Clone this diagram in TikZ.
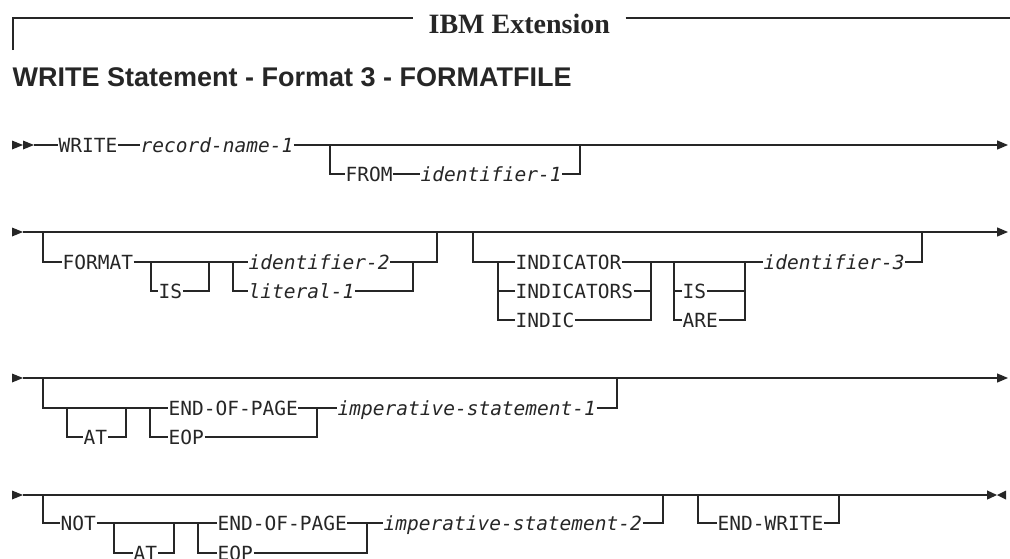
\documentclass[tikz,border=0pt]{standalone}
\usepackage{fontspec}
\setmainfont{Liberation Serif}
\newfontfamily\dmono{DejaVu Sans Mono}
\newfontfamily\hsans{Liberation Sans}
\usetikzlibrary{arrows.meta}
\tikzset{
  kw/.style={anchor=west, inner sep=0pt, text height=14pt, text depth=0pt,
    font=\dmono\fontsize{19.5}{20}\selectfont},
  var/.style={kw, font=\dmono\itshape\fontsize{19.5}{20}\selectfont},
  hdr/.style={anchor=base west, inner xsep=15pt, inner ysep=0pt,
    font=\bfseries\fontsize{28}{30}\selectfont},
  ttl/.style={anchor=base west, inner sep=0pt,
    font=\hsans\bfseries\fontsize{27}{30}\selectfont},
  goon/.style={-{Triangle[length=11pt,width=9pt]}},
}
\begin{document}
\begin{tikzpicture}[x=1pt,y=-1pt,line width=1.3pt,color=black!85]
\useasboundingbox (0,0) rectangle (1010,558);
\clip (0,0) rectangle (1010,558);

% header
\node[hdr] (ibm) at (413,33) {IBM Extension};
\coordinate (hl) at (13,18);
\coordinate (hb) at (13,50);
\coordinate (hr) at (1010,18);
\draw (hb) -- (hl) -- (hl -| ibm.west);
\draw (ibm.east |- hl) -- (hr);
\node[ttl] (title) at (12,86) {WRITE Statement - Format 3 - FORMATFILE};

% row 1
\fill (12,140.5) -- (23,145) -- (12,149.5) -- cycle;
\fill (23,140.5) -- (34,145) -- (23,149.5) -- cycle;
\coordinate (a0) at (34,145);
\coordinate (a1) at (330,145);
\coordinate (a2) at (580,145);
\coordinate (a9) at (1008,145);
\node[kw] (write) at (58,145) {WRITE};
\node[var] (rec) at (140,145) {record-name-1};
\node[kw] (from) at (345,174) {FROM};
\node[var] (id1) at (420,174) {identifier-1};
\draw (a0) -- (write.west);
\draw (write.east) -- (rec.west);
\draw[goon] (rec.east) -- (a9);
\draw (a1) |- (from.west);
\draw (from.east) -- (id1.west);
\draw (id1.east) -| (a2);

% row 2
\fill (12,227.5) -- (23,232) -- (12,236.5) -- cycle;
\coordinate (b0) at (23,232);
\coordinate (b9) at (1008,232);
\draw[goon] (b0) -- (b9);
\coordinate (b1) at (43,232);
\coordinate (b2) at (437,232);
\coordinate (b3) at (151,262);
\coordinate (b4) at (209,262);
\coordinate (b5) at (233,262);
\coordinate (b6) at (413,262);
\node[kw] (fmt) at (62,262) {FORMAT};
\node[kw] (is1) at (158,291) {IS};
\node[var] (id2) at (248,262) {identifier-2};
\node[var] (lit) at (248,291) {literal-1};
\draw (b1) |- (fmt.west);
\draw (fmt.east) -- (id2.west);
\draw (b3) |- (is1.west);
\draw (is1.east) -| (b4);
\draw (b5) |- (lit.west);
\draw (lit.east) -| (b6);
\draw (id2.east) -- (b6) -| (b2);

\coordinate (c1) at (473,232);
\coordinate (c2) at (498,262);
\coordinate (c3) at (651,262);
\coordinate (c4) at (674,262);
\coordinate (c5) at (745,262);
\coordinate (c6) at (922,232);
\node[kw] (ind) at (515,262) {INDICATOR};
\node[kw] (inds) at (515,291) {INDICATORS};
\node[kw] (indic) at (515,320) {INDIC};
\node[kw] (is2) at (682,291) {IS};
\node[kw] (are) at (682,320) {ARE};
\node[var] (id3) at (763,262) {identifier-3};
\draw (c1) |- (c2) -- (ind.west);
\draw (c2) |- (indic.west);
\draw (c2 |- inds.west) -- (inds.west);
\draw (ind.east) -- (c3);
\draw (inds.east) -- (c3 |- inds.east);
\draw (indic.east) -| (c3);
\draw (c3) -- (id3.west);
\draw (c4) |- (are.west);
\draw (c4 |- is2.west) -- (is2.west);
\draw (is2.east) -- (c5 |- is2.east);
\draw (are.east) -| (c5);
\draw (id3.east) -| (c6);

% row 3
\fill (12,373.5) -- (23,378) -- (12,382.5) -- cycle;
\coordinate (d0) at (23,378);
\coordinate (d9) at (1008,378);
\draw[goon] (d0) -- (d9);
\coordinate (d1) at (43,378);
\coordinate (d2) at (67,408);
\coordinate (d3) at (126,408);
\coordinate (d4) at (150,408);
\coordinate (d5) at (317,408);
\coordinate (d6) at (617,378);
\node[kw] (at1) at (83,437) {AT};
\node[kw] (eop1) at (168,408) {END-OF-PAGE};
\node[kw] (eopb1) at (168,437) {EOP};
\node[var] (imp1) at (337,408) {imperative-statement-1};
\draw (d1) |- (eop1.west);
\draw (d2) |- (at1.west);
\draw (at1.east) -| (d3);
\draw (d4) |- (eopb1.west);
\draw (eopb1.east) -| (d5);
\draw (eop1.east) -- (imp1.west);
\draw (imp1.east) -| (d6);

% row 4
\fill (12,490.5) -- (23,495) -- (12,499.5) -- cycle;
\coordinate (e0) at (23,495);
\coordinate (e1) at (43,495);
\coordinate (e2) at (114,523);
\coordinate (e3) at (174,523);
\coordinate (e4) at (198,523);
\coordinate (e5) at (367,523);
\coordinate (e6) at (663,495);
\coordinate (e7) at (698,495);
\coordinate (e8) at (839,495);
\coordinate (e9) at (997,495);
\draw[-{Triangle[length=10pt,width=9pt]}] (e0) -- (e9);
\fill (1006,490.5) -- (997,495) -- (1006,499.5) -- cycle;
\node[kw] (not) at (60,523) {NOT};
\node[kw] (at2) at (133,553) {AT};
\node[kw] (eop2) at (217,523) {END-OF-PAGE};
\node[kw] (eopb2) at (217,553) {EOP};
\node[var] (imp2) at (383,523) {imperative-statement-2};
\node[kw] (endw) at (717,523) {END-WRITE};
\draw (e1) |- (not.west);
\draw (not.east) -- (eop2.west);
\draw (e2) |- (at2.west);
\draw (at2.east) -| (e3);
\draw (e4) |- (eopb2.west);
\draw (eopb2.east) -| (e5);
\draw (eop2.east) -- (imp2.west);
\draw (imp2.east) -| (e6);
\draw (e7) |- (endw.west);
\draw (endw.east) -| (e8);
\end{tikzpicture}
\end{document}
